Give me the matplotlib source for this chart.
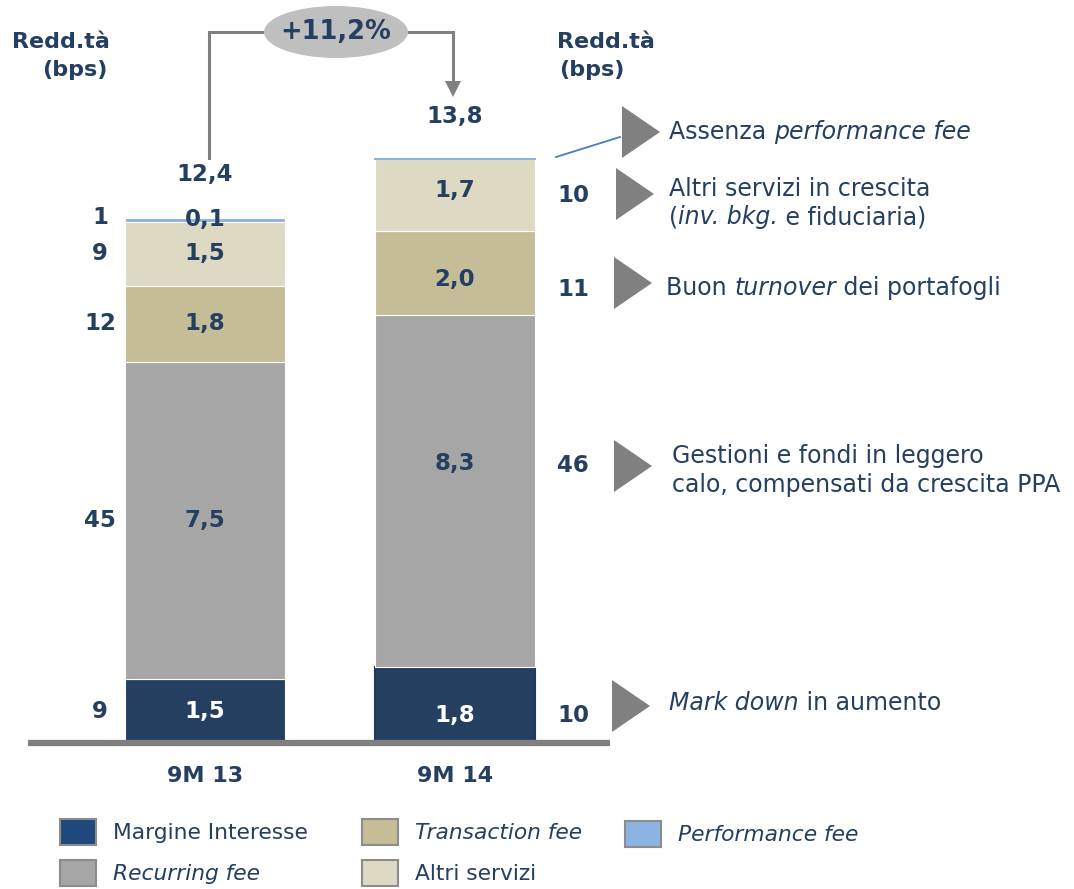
import matplotlib
matplotlib.use("Agg")
import matplotlib.pyplot as plt
import numpy as np
from matplotlib.patches import Ellipse, Polygon, Rectangle

plt.rcParams['font.family'] = ['DejaVu Sans']

# ---------------- data ----------------
categories = ["9M 13", "9M 14"]
series_names = ["Margine Interesse", "Recurring fee", "Transaction fee", "Altri servizi", "Performance fee"]
margine = [1.5, 1.8]
recurring = [7.5, 8.3]
transaction = [1.8, 2.0]
altri = [1.5, 1.7]
performance = [0.1, 0.0]
totals = [12.4, 13.8]
value_labels_13 = ["1,5", "7,5", "1,8", "1,5", "0,1"]
value_labels_14 = ["1,8", "8,3", "2,0", "1,7", ""]
bps_13 = ["9", "45", "12", "9", "1"]
bps_14 = ["10", "46", "11", "10"]
total_labels = ["12,4", "13,8"]
growth_label = "+11,2%"

NAVY = "#1F3864"
TXT = "#243F60"
colors = ["#243F60", "#A6A6A6", "#C4BD97", "#DDD9C3", "#8DB3E2"]
legend_colors = ["#1F497D", "#A6A6A6", "#C4BD97", "#DDD9C3", "#8DB3E2"]

W, H = 1074, 889
fig = plt.figure(figsize=(W / 100, H / 100), dpi=100)

# main data axes: bars centred at x=0,1 ; 1 unit of y = 42.35 px, baseline at px 743
PX_X = 250.0
PX_Y = 42.35
x0px, base_px = 205.0, 743.0
ax = fig.add_axes([0, 0, 1, 1])
ax.set_xlim(-x0px / PX_X, (W - x0px) / PX_X)
ax.set_ylim(-(H - base_px) / PX_Y, base_px / PX_Y)
ax.axis("off")

# overlay pixel axes for annotations
ov = fig.add_axes([0, 0, 1, 1], zorder=5)
ov.set_xlim(0, W)
ov.set_ylim(H, 0)
ov.axis("off")
ov.patch.set_alpha(0)

x = np.arange(len(categories))
bw = 160 / PX_X
stack = [margine, recurring, transaction, altri, performance]
bottom = np.zeros(len(categories))
seg_centers = []
for i, vals in enumerate(stack):
    vals = np.array(vals, dtype=float)
    ec = ["white", NAVY] if i == 0 else "white"
    lw = [0.8, 1.5] if i == 0 else 0.8
    ax.bar(x, vals, bw, bottom=bottom, color=colors[i], edgecolor=ec, linewidth=lw, zorder=2)
    seg_centers.append(bottom + vals / 2)
    bottom = bottom + vals
# zero performance on 9M 14: thin light-blue line on top
ax.plot([x[1] - bw / 2, x[1] + bw / 2], [bottom[1], bottom[1]], color="#8DB3E2", lw=1.5, zorder=3)

# baseline
ax.plot([(28 - x0px) / PX_X, (610 - x0px) / PX_X], [0, 0], color="#7F7F7F", lw=4.5,
        solid_capstyle="butt", zorder=3)

fs_num = 16.5
# values inside bars, 9M 13
for i, lab in enumerate(value_labels_13):
    yy = seg_centers[i][0]
    if i == 4:
        yy = bottom[0] - 0.05
    ax.text(x[0], yy, lab, ha="center", va="center", fontsize=fs_num, fontweight="bold",
            color="white" if i == 0 else TXT, zorder=4)
    ax.text((100 - x0px) / PX_X, seg_centers[i][0] if i < 4 else bottom[0], bps_13[i],
            ha="center", va="center", fontsize=fs_num, fontweight="bold", color=TXT)

# values inside bars, 9M 14 (placed roughly as in the original)
offs14 = [-0.25, 0.65, -0.15, 0.1]
for i in range(4):
    ax.text(x[1], seg_centers[i][1] + offs14[i], value_labels_14[i], ha="center", va="center",
            fontsize=fs_num, fontweight="bold", color="white" if i == 0 else TXT, zorder=4)

# side bps labels + triangles + comments for 9M 14
tri_y = [706, 466, 283, 194, 132]
bps14_y = [716, 465, 290, 195]
for i, lab in enumerate(bps_14):
    ov.text(573, bps14_y[i], lab, ha="center", va="center", fontsize=fs_num, fontweight="bold", color=TXT)
tri_x = [612, 614, 614, 616, 622]
for ty, tx in zip(tri_y, tri_x):
    ov.add_patch(Polygon([[tx, ty - 26], [tx, ty + 26], [tx + 38, ty]], closed=True,
                         facecolor="#808080", edgecolor="none"))

fs_c = 17
def mixed(xp, yp, parts, fs=fs_c):
    """draw text pieces (text, italic) one after another on a line"""
    t = None
    for txt, it in parts:
        if t is None:
            t = ov.text(xp, yp, txt, ha="left", va="center", fontsize=fs, color=TXT,
                        style="italic" if it else "normal")
        else:
            t = ov.annotate(txt, xycoords=t, xy=(1, 0), va="bottom", ha="left", fontsize=fs,
                            color=TXT, style="italic" if it else "normal")
    return t

mixed(669, 132, [("Assenza ", False), ("performance fee", True)])
mixed(669, 189, [("Altri servizi in crescita", False)])
mixed(669, 217, [("(", False), ("inv. bkg.", True), (" e fiduciaria)", False)])
mixed(666, 288, [("Buon ", False), ("turnover", True), (" dei portafogli", False)])
mixed(672, 456, [("Gestioni e fondi in leggero", False)])
mixed(672, 485, [("calo, compensati da crescita PPA", False)])
mixed(669, 703, [("Mark down", True), (" in aumento", False)])

# blue leader line
ov.plot([556, 620], [157, 137], color="#4A7EBB", lw=1.3)

# totals
ax.text(x[0], (base_px - 175) / PX_Y, total_labels[0], ha="center", va="center",
        fontsize=fs_num, fontweight="bold", color=TXT)
ax.text(x[1], (base_px - 116) / PX_Y, total_labels[1], ha="center", va="center",
        fontsize=fs_num, fontweight="bold", color=TXT)

# growth connector
ov.plot([209, 209, 270], [158, 32, 32], color="#808080", lw=2.2, solid_joinstyle="miter")
ov.plot([400, 453, 453], [32, 32, 82], color="#808080", lw=2.2, solid_joinstyle="miter")
ov.add_patch(Polygon([[445, 81], [461, 81], [453, 97]], closed=True, facecolor="#808080", edgecolor="none"))
ov.add_patch(Ellipse((336, 32), 144, 52, facecolor="#BFBFBF", edgecolor="none", zorder=6))
ov.text(336, 32, growth_label, ha="center", va="center", fontsize=18.5, fontweight="bold",
        color=TXT, zorder=7)

# Redd.tà headers
ov.text(110, 42, "Redd.tà", ha="right", va="center", fontsize=16, fontweight="bold", color=TXT)
ov.text(108, 70, "(bps)", ha="right", va="center", fontsize=16, fontweight="bold", color=TXT)
ov.text(557, 42, "Redd.tà", ha="left", va="center", fontsize=16, fontweight="bold", color=TXT)
ov.text(559, 70, "(bps)", ha="left", va="center", fontsize=16, fontweight="bold", color=TXT)

# category labels
for xi, c in zip(x, categories):
    ax.text(xi, -(776 - base_px) / PX_Y, c, ha="center", va="center", fontsize=16,
            fontweight="bold", color=TXT)

# legend
leg_pos = [(60, 832), (60, 873), (362, 832), (362, 873), (625, 834)]
leg_italic = [False, True, True, False, True]
for (lx, ly), name, col, it in zip(leg_pos, series_names, legend_colors, leg_italic):
    ov.add_patch(Rectangle((lx, ly - 13), 36, 26, facecolor=col, edgecolor="#8C8C8C", lw=1.5))
    ov.text(lx + 53, ly + 1, name, ha="left", va="center", fontsize=15.7, color=TXT,
            style="italic" if it else "normal")

fig.savefig("out.png", dpi=100)
